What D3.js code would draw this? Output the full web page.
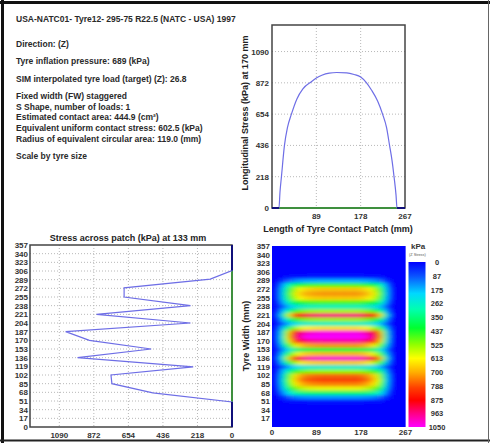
<!DOCTYPE html>
<html>
<head>
<meta charset="utf-8">
<script src="https://cdn.jsdelivr.net/npm/d3@7"></script>
<style>
    body { margin: 0; background: #fff; }
    svg { display: block; font-family: "Liberation Sans", Arial, sans-serif; }
    .tick-label { font-size: 8px; font-weight: bold; fill: #333; }
    .axis-title { font-size: 9px; font-weight: bold; fill: #222; }
    .info { font-size: 8.5px; font-weight: bold; fill: #2a2a2a; }
</style>
</head>
<body>
<div id="chart"></div>
<script>

// ---- data ----

const infoTitle = "USA-NATC01- Tyre12- 295-75 R22.5 (NATC - USA) 1997";
const infoLines = [
    "Direction: (Z)",
    "Tyre inflation pressure: 689 (kPa)",
    "SIM interpolated tyre load (target) (Z): 26.8",
    "Fixed width (FW) staggered",
    "S Shape, number of loads: 1",
    "Estimated contact area: 444.9 (cm\u00B2)",
    "Equivalent uniform contact stress: 602.5 (kPa)",
    "Radius of equivalent circular area: 119.0 (mm)",
    "Scale by tyre size"
];

// longitudinal stress at 170 mm (top chart)
const longMM  = [0, 14, 16, 19, 25, 31, 39, 50, 62, 79, 89, 100, 115, 130, 150, 165, 178, 189, 200, 212, 222, 230, 236, 241, 245, 249, 251, 267];
const longKPa = [0, 0, 110, 220, 436, 560, 654, 760, 830, 880, 905, 925, 940, 944, 942, 930, 912, 875, 820, 745, 654, 560, 436, 330, 218, 90, 0, 0];

// stress across patch at 133 mm (bottom left chart)
const latMM  = [0, 49, 67, 85, 102, 118, 136, 153, 170, 187, 204, 221, 238, 255, 273, 290, 307, 357];
const latKPa = [0, 0, 500, 758, 764, 245, 975, 510, 900, 1050, 262, 855, 262, 681, 681, 137, 0, 0];

const stressTicks = [0, 218, 436, 654, 872, 1090];
const lengthTicks = [89, 178, 267];
const lengthTicksHeat = [0, 89, 178, 267];
const widthTicks = [0, 17, 34, 51, 68, 85, 102, 119, 136, 153, 170, 187, 204, 221, 238, 255, 272, 289, 306, 323, 340, 357];
const colorTicks = [0, 87, 175, 262, 350, 437, 525, 613, 700, 788, 875, 963, 1050];

// contact patch map: Z stress per width row (8.5 mm apart) and relative level per length column
const heatRowMM = [0, 8.5, 17, 25.5, 34, 42.5, 51, 59.5, 68, 76.5, 85, 93.5, 102, 110.5, 119, 127.5, 136, 144.5, 153, 161.5,
    170, 178.5, 187, 195.5, 204, 212.5, 221, 229.5, 238, 246.5, 255, 263.5, 272, 280.5, 289, 297.5, 306, 314.5, 323, 331.5, 340, 348.5, 357];
const heatRowKPa = [0, 0, 0, 0, 0, 0, 20, 150, 380, 600, 740, 800, 760, 530, 260, 660, 1020, 690, 410, 720,
    980, 1080, 1030, 640, 280, 540, 960, 540, 290, 480, 670, 720, 670, 470, 170, 20, 0, 0, 0, 0, 0, 0, 0];
const heatColFactor = [0, 0.04, 0.18, 0.37, 0.54, 0.68, 0.79, 0.87, 0.92, 0.95, 0.97, 0.98, 0.99, 0.99,
    1, 1, 1, 1, 1, 1, 1, 1, 1, 1, 1, 1, 0.99, 0.97, 0.95, 0.91, 0.86, 0.78, 0.66, 0.48, 0.24, 0.06, 0, 0, 0, 0];

// colour map of the Z stress legend
const colorStops = [0, 87, 200, 300, 420, 525, 613, 700, 800, 880, 960, 1050];
const colorValues = ["#0000ff", "#0a50ff", "#00d8ff", "#00ffb0", "#00ff30", "#90ff00", "#ffff00", "#ffb000", "#ff4000", "#ff0000", "#ff0080", "#ff00ff"];

const stressMax = 1275;
const lengthMax = 267;
const widthMax = 357;

// ---- drawing ----

const W = 490, H = 443;
const svg = d3.select("#chart").append("svg")
    .attr("width", W)
    .attr("height", H);

svg.append("rect").attr("width", W).attr("height", H).attr("fill", "#fff");

// outer frame
svg.append("line").attr("x1", 0).attr("x2", W).attr("y1", 2.5).attr("y2", 2.5).attr("stroke", "#111").attr("stroke-width", 3);
svg.append("line").attr("x1", 2.5).attr("x2", 2.5).attr("y1", 0).attr("y2", H).attr("stroke", "#111").attr("stroke-width", 3);
svg.append("line").attr("x1", 0).attr("x2", W).attr("y1", 440.5).attr("y2", 440.5).attr("stroke", "#222").attr("stroke-width", 2);
svg.append("line").attr("x1", 488.5).attr("x2", 488.5).attr("y1", 0).attr("y2", H).attr("stroke", "#666").attr("stroke-width", 1);

// info text block
svg.append("text").attr("class", "info").attr("x", 16).attr("y", 22).text(infoTitle);
const infoY = [46.5, 64, 81.5, 98.5, 109.5, 120, 131, 142, 159];
svg.selectAll("text.info-line")
    .data(infoLines)
    .enter().append("text")
    .attr("class", "info info-line")
    .attr("x", 16)
    .attr("y", (d, i) => infoY[i])
    .text(d => d);

const navy = "#10107a";
const green = "#2e9a2e";
const lineBlue = "#6e6ee6";
const gridColor = "#b8b8b8";

function zeroSegments(xs, vs) {
    let segs = [];
    for (let i = 0; i < xs.length - 1; i++) {
        if (vs[i] === 0 && vs[i + 1] === 0) segs.push([xs[i], xs[i + 1]]);
    }
    return segs;
}

// ---------- top right: longitudinal stress ----------
(function () {
    const m = {left: 272, right: 405, top: 25, bottom: 208};
    const x = d3.scaleLinear().domain([0, lengthMax]).range([m.left, m.right]);
    const y = d3.scaleLinear().domain([0, stressMax]).range([m.bottom, m.top]);
    const g = svg.append("g");

    g.selectAll("line.hgrid").data(stressTicks.slice(1)).enter().append("line")
        .attr("x1", m.left).attr("x2", m.right)
        .attr("y1", d => y(d)).attr("y2", d => y(d))
        .attr("stroke", gridColor).attr("stroke-dasharray", "1,2");
    g.selectAll("line.vgrid").data(lengthTicks.slice(0, 2)).enter().append("line")
        .attr("x1", d => x(d)).attr("x2", d => x(d))
        .attr("y1", m.top).attr("y2", m.bottom)
        .attr("stroke", gridColor).attr("stroke-dasharray", "1,2");

    g.append("rect")
        .attr("x", m.left).attr("y", m.top)
        .attr("width", m.right - m.left).attr("height", m.bottom - m.top)
        .attr("fill", "none").attr("stroke", "#444").attr("stroke-width", 1.5);

    // zero line
    g.append("line")
        .attr("x1", x(0)).attr("x2", x(lengthMax))
        .attr("y1", y(0)).attr("y2", y(0))
        .attr("stroke", green).attr("stroke-width", 1.5);

    const pts = longMM.map((d, i) => [d, longKPa[i]]);
    g.append("path")
        .datum(pts)
        .attr("fill", "none")
        .attr("stroke", lineBlue)
        .attr("stroke-width", 1.2)
        .attr("d", d3.line().x(d => x(d[0])).y(d => y(d[1])).curve(d3.curveMonotoneX));

    g.selectAll("line.zero").data(zeroSegments(longMM, longKPa)).enter().append("line")
        .attr("x1", d => x(d[0])).attr("x2", d => x(d[1]))
        .attr("y1", y(0)).attr("y2", y(0))
        .attr("stroke", navy).attr("stroke-width", 2);

    g.selectAll("text.yt").data(stressTicks).enter().append("text")
        .attr("class", "tick-label")
        .attr("x", m.left - 3).attr("y", d => y(d) + 3)
        .attr("text-anchor", "end")
        .text(d => d);
    g.selectAll("text.xt").data(lengthTicks).enter().append("text")
        .attr("class", "tick-label")
        .attr("x", d => x(d)).attr("y", m.bottom + 11)
        .attr("text-anchor", "middle")
        .text(d => d);

    g.append("text").attr("class", "axis-title")
        .attr("x", 338).attr("y", 232)
        .attr("text-anchor", "middle")
        .text("Length of Tyre Contact Patch (mm)");
    g.append("text").attr("class", "axis-title")
        .attr("transform", "translate(248," + 113 + ") rotate(-90)")
        .attr("text-anchor", "middle")
        .text("Longitudinal Stress (kPa) at 170 mm");
})();

// ---------- bottom left: stress across patch ----------
(function () {
    const m = {left: 30, right: 232, top: 245, bottom: 427};
    const x = d3.scaleLinear().domain([stressMax, 0]).range([m.left, m.right]);
    const y = d3.scaleLinear().domain([0, widthMax]).range([m.bottom, m.top]);
    const g = svg.append("g");

    g.selectAll("line.hgrid").data(widthTicks.slice(1, -1)).enter().append("line")
        .attr("x1", m.left).attr("x2", m.right)
        .attr("y1", d => y(d)).attr("y2", d => y(d))
        .attr("stroke", gridColor).attr("stroke-dasharray", "1,2");
    g.selectAll("line.vgrid").data(stressTicks.slice(1)).enter().append("line")
        .attr("x1", d => x(d)).attr("x2", d => x(d))
        .attr("y1", m.top).attr("y2", m.bottom)
        .attr("stroke", gridColor).attr("stroke-dasharray", "1,2");

    g.append("rect")
        .attr("x", m.left).attr("y", m.top)
        .attr("width", m.right - m.left).attr("height", m.bottom - m.top)
        .attr("fill", "none").attr("stroke", "#444").attr("stroke-width", 1.5);

    g.append("line")
        .attr("x1", x(0)).attr("x2", x(0))
        .attr("y1", y(0)).attr("y2", y(widthMax))
        .attr("stroke", green).attr("stroke-width", 1.5);

    const pts = latMM.map((d, i) => [d, latKPa[i]]);
    g.append("path")
        .datum(pts)
        .attr("fill", "none")
        .attr("stroke", lineBlue)
        .attr("stroke-width", 1.2)
        .attr("d", d3.line().x(d => x(d[1])).y(d => y(d[0])));

    g.selectAll("line.zero").data(zeroSegments(latMM, latKPa)).enter().append("line")
        .attr("x1", x(0)).attr("x2", x(0))
        .attr("y1", d => y(d[0])).attr("y2", d => y(d[1]))
        .attr("stroke", navy).attr("stroke-width", 2);

    g.selectAll("text.yt").data(widthTicks).enter().append("text")
        .attr("class", "tick-label")
        .attr("x", m.left - 2).attr("y", d => y(d) + 3)
        .attr("text-anchor", "end")
        .text(d => d);
    g.selectAll("text.xt").data(stressTicks).enter().append("text")
        .attr("class", "tick-label")
        .attr("x", d => x(d)).attr("y", m.bottom + 11)
        .attr("text-anchor", "middle")
        .text(d => d);

    g.append("text").attr("class", "axis-title")
        .attr("x", 128).attr("y", 241)
        .attr("text-anchor", "middle")
        .text("Stress across patch (kPa) at 133 mm");
})();

// ---------- bottom right: contact patch map ----------
(function () {
    const m = {left: 272, right: 405.5, top: 246, bottom: 427};
    const x = d3.scaleLinear().domain([0, lengthMax]).range([m.left, m.right]);
    const y = d3.scaleLinear().domain([0, widthMax]).range([m.bottom, m.top]);
    const color = d3.scaleLinear().domain(colorStops).range(colorValues).clamp(true);
    const g = svg.append("g");

    const defs = svg.append("defs");
    defs.append("clipPath").attr("id", "heat-clip")
        .append("rect")
        .attr("x", m.left).attr("y", m.top)
        .attr("width", m.right - m.left).attr("height", m.bottom - m.top);
    const blur = defs.append("filter").attr("id", "heat-blur")
        .attr("x", "-5%").attr("y", "-5%").attr("width", "110%").attr("height", "110%");
    blur.append("feGaussianBlur").attr("stdDeviation", "3.3 1.8");

    g.append("rect")
        .attr("x", m.left).attr("y", m.top)
        .attr("width", m.right - m.left).attr("height", m.bottom - m.top)
        .attr("fill", color(0));

    const colStep = lengthMax / heatColFactor.length;
    const rowStep = heatRowMM[1] - heatRowMM[0];
    let cells = [];
    heatRowMM.forEach((mm, r) => {
        heatColFactor.forEach((f, c) => {
            cells.push({y0: mm - rowStep / 2, y1: mm + rowStep / 2, x0: c * colStep, x1: (c + 1) * colStep, v: heatRowKPa[r] * f});
        });
    });

    g.append("g")
        .attr("clip-path", "url(#heat-clip)")
        .append("g")
        .attr("filter", "url(#heat-blur)")
        .selectAll("rect")
        .data(cells)
        .enter().append("rect")
        .attr("x", d => x(d.x0))
        .attr("y", d => y(d.y1))
        .attr("width", d => x(d.x1) - x(d.x0) + 0.3)
        .attr("height", d => y(d.y0) - y(d.y1) + 0.3)
        .attr("fill", d => color(d.v));

    g.selectAll("text.yt").data(widthTicks.slice(1)).enter().append("text")
        .attr("class", "tick-label")
        .attr("x", m.left - 2).attr("y", d => y(d) + 3)
        .attr("text-anchor", "end")
        .text(d => d);
    g.selectAll("text.xt").data(lengthTicksHeat).enter().append("text")
        .attr("class", "tick-label")
        .attr("x", d => x(d)).attr("y", m.bottom + 8)
        .attr("text-anchor", "middle")
        .text(d => d);

    g.append("text").attr("class", "axis-title")
        .attr("transform", "translate(249," + 336 + ") rotate(-90)")
        .attr("text-anchor", "middle")
        .text("Tyre Width (mm)");

    // legend
    const lg = {left: 408.5, width: 17, top: 262, bottom: 427};
    const cy = d3.scaleLinear().domain([0, 1050]).range([lg.top, lg.bottom]);
    const grad = defs.append("linearGradient").attr("id", "zgrad")
        .attr("x1", 0).attr("x2", 0).attr("y1", 0).attr("y2", 1);
    grad.selectAll("stop").data(colorStops).enter().append("stop")
        .attr("offset", d => d / 1050)
        .attr("stop-color", d => color(d));
    g.append("rect")
        .attr("x", lg.left).attr("y", lg.top)
        .attr("width", lg.width).attr("height", lg.bottom - lg.top)
        .attr("fill", "url(#zgrad)");
    g.selectAll("text.ct").data(colorTicks).enter().append("text")
        .attr("class", "tick-label")
        .style("font-size", "7.5px")
        .attr("x", 437).attr("y", d => cy(d) + 3)
        .attr("text-anchor", "middle")
        .text(d => d);
    g.append("text").attr("class", "tick-label")
        .attr("x", 411).attr("y", 249)
        .text("kPa");
    g.append("text")
        .attr("x", 409).attr("y", 255.5)
        .style("font-size", "3.8px").attr("fill", "#555")
        .text("(Z Stress)");
})();

</script>
</body>
</html>
